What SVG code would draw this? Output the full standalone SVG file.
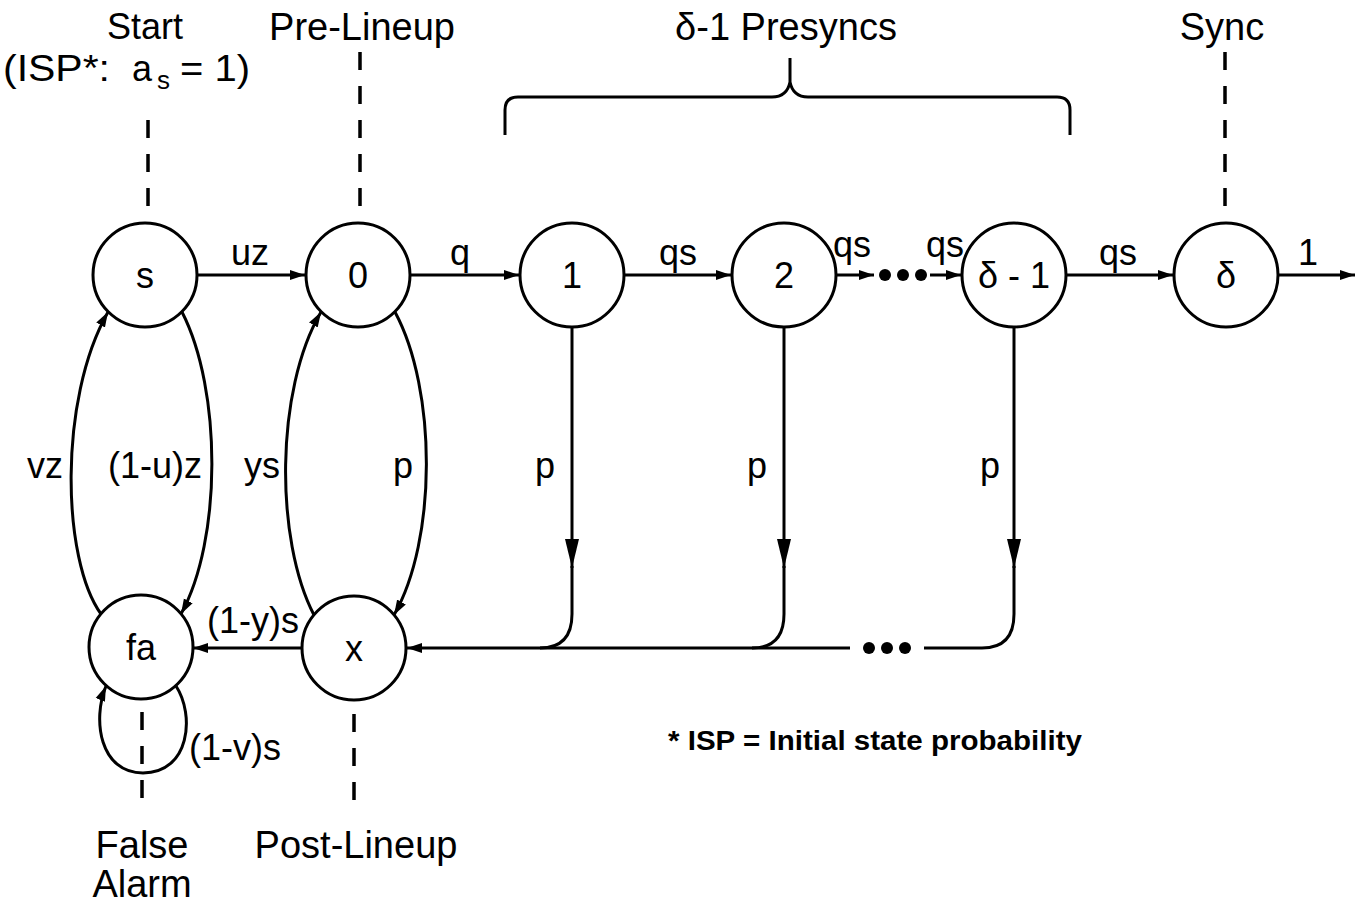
<svg xmlns="http://www.w3.org/2000/svg" width="1368" height="905" viewBox="0 0 1368 905">
<defs>
<style>
.n{fill:#fff;stroke:#000;stroke-width:3}
.e{fill:none;stroke:#000;stroke-width:3}
.d{fill:none;stroke:#000;stroke-width:3.5;stroke-dasharray:18 16}
text{font-family:"Liberation Sans",Arial,sans-serif;fill:#000}
.t{font-size:36px;text-anchor:middle}
.h{font-size:38px;text-anchor:middle}
.l{font-size:36px;text-anchor:middle}
</style>
<marker id="a" markerUnits="userSpaceOnUse" markerWidth="16" markerHeight="12" refX="15" refY="6" orient="auto">
<path d="M0,1 L15,6 L0,11 z" fill="#000"/>
</marker>
<marker id="b" markerUnits="userSpaceOnUse" markerWidth="30" markerHeight="16" refX="29" refY="8" orient="auto">
<path d="M0,1 L29,8 L0,15 z" fill="#000"/>
</marker>
</defs>
<rect width="1368" height="905" fill="#fff"/>

<g id="labels">
<text x="145" y="39" style="font-size:36px;text-anchor:middle">Start</text>
<text x="3" y="81" style="font-size:36px" textLength="107" lengthAdjust="spacingAndGlyphs">(ISP*:</text>
<text x="132" y="81" style="font-size:36px">a</text>
<text x="157" y="89" style="font-size:26px">s</text>
<text x="180" y="81" style="font-size:36px" textLength="70" lengthAdjust="spacingAndGlyphs">= 1)</text>
<text class="h" x="362" y="40">Pre-Lineup</text>
<text class="h" x="786" y="40">δ-1 Presyncs</text>
<text class="h" x="1222" y="40">Sync</text>
<text class="h" x="142" y="858">False</text>
<text class="h" x="142" y="897">Alarm</text>
<text class="h" x="356" y="858">Post-Lineup</text>
<text x="668" y="750" style="font-size:28px;font-weight:bold" textLength="414" lengthAdjust="spacingAndGlyphs">* ISP = Initial state probability</text>
<path class="e" d="M505,135 V110 Q505,97 518,97 H772 Q787,97 790,82 Q793,97 808,97 H1057 Q1070,97 1070,110 V135 M790,82 V58"/>
<path class="d" d="M148,120 V210 M360,52 V210 M1225,52 V210 M142,712 V802 M354,714 V804"/>
</g>

<g id="connectors">
<path class="e" d="M197,275 L305,275" marker-end="url(#a)"/>
<path class="e" d="M410,275 L519,275" marker-end="url(#a)"/>
<path class="e" d="M624,275 L731,275" marker-end="url(#a)"/>
<path class="e" d="M836,275 L874,275" marker-end="url(#a)"/>
<path class="e" d="M930,275 L961,275" marker-end="url(#a)"/>
<path class="e" d="M1066,275 L1173,275" marker-end="url(#a)"/>
<path class="e" d="M1278,275 L1355,275" marker-end="url(#a)"/>
<circle cx="885" cy="275" r="6"/>
<circle cx="903" cy="275" r="6"/>
<circle cx="921" cy="275" r="6"/>
<path class="e" d="M101,614 C62,560 58,400 108,312" marker-end="url(#a)"/>
<path class="e" d="M182,312 C222,390 222,540 181,614" marker-end="url(#a)"/>
<path class="e" d="M314,615 C275,540 275,390 321,312" marker-end="url(#a)"/>
<path class="e" d="M395,312 C437,390 437,540 394,615" marker-end="url(#a)"/>
<path class="e" d="M176,686 C195,715 190,773 143,773 C100,773 92,720 106,686" marker-end="url(#a)"/>
<path class="e" d="M302,648 L193,648" marker-end="url(#a)"/>
<path class="e" d="M572,327 L572,568" marker-end="url(#b)"/>
<path class="e" d="M784,327 L784,568" marker-end="url(#b)"/>
<path class="e" d="M1014,327 L1014,568" marker-end="url(#b)"/>
<path class="e" d="M572,566 L572,614 Q572,648 540,648"/>
<path class="e" d="M784,566 L784,614 Q784,648 752,648"/>
<path class="e" d="M1014,566 L1014,614 Q1014,648 982,648 L924,648"/>
<path class="e" d="M850,648 L407,648" marker-end="url(#a)"/>
<circle cx="869" cy="648" r="6"/>
<circle cx="887" cy="648" r="6"/>
<circle cx="905" cy="648" r="6"/>
<text class="l" x="250" y="265">uz</text>
<text class="l" x="460" y="265">q</text>
<text class="l" x="678" y="265">qs</text>
<text class="l" x="852" y="257">qs</text>
<text class="l" x="945" y="257">qs</text>
<text class="l" x="1118" y="265">qs</text>
<text class="l" x="1308" y="265">1</text>
<text class="l" x="45" y="478">vz</text>
<text class="l" x="155" y="478">(1-u)z</text>
<text class="l" x="262" y="478">ys</text>
<text class="l" x="403" y="478">p</text>
<text class="l" x="545" y="478">p</text>
<text class="l" x="757" y="478">p</text>
<text class="l" x="990" y="478">p</text>
<text class="l" x="253" y="633">(1-y)s</text>
<text class="l" x="235" y="760">(1-v)s</text>
</g>

<g id="node-s"><circle class="n" cx="145" cy="275" r="52"/><text class="t" x="145" y="288">s</text></g>
<g id="node-0"><circle class="n" cx="358" cy="275" r="52"/><text class="t" x="358" y="288">0</text></g>
<g id="node-1"><circle class="n" cx="572" cy="275" r="52"/><text class="t" x="572" y="288">1</text></g>
<g id="node-2"><circle class="n" cx="784" cy="275" r="52"/><text class="t" x="784" y="288">2</text></g>
<g id="node-d1"><circle class="n" cx="1014" cy="275" r="52"/><text class="t" x="1014" y="288">δ - 1</text></g>
<g id="node-d"><circle class="n" cx="1226" cy="275" r="52"/><text class="t" x="1226" y="288">δ</text></g>
<g id="node-fa"><circle class="n" cx="141" cy="647" r="52"/><text class="t" x="141" y="660">fa</text></g>
<g id="node-x"><circle class="n" cx="354" cy="648" r="52"/><text class="t" x="354" y="661">x</text></g>
</svg>
